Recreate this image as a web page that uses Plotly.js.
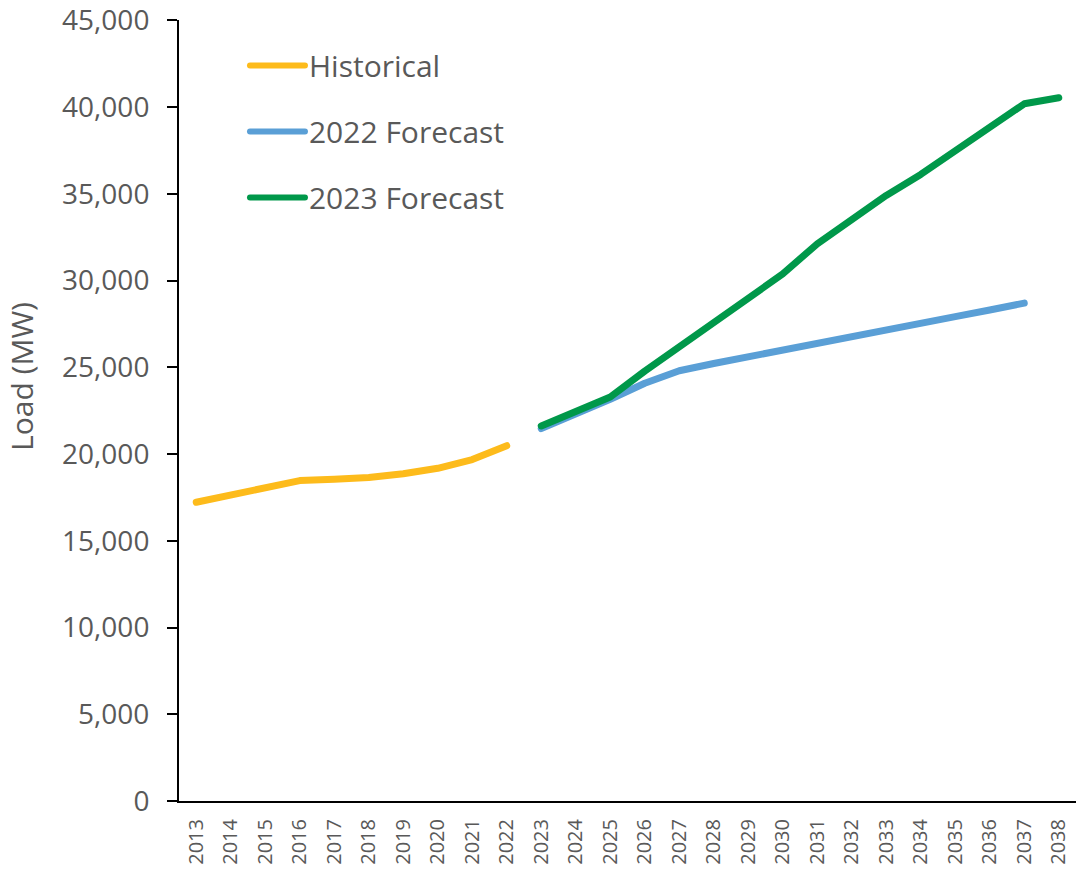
<!DOCTYPE html>
<html>
<head>
<meta charset="utf-8">
<script src="https://cdn.plot.ly/plotly-3.0.1.min.js"></script>
<style>html,body{margin:0;padding:0;background:#fff;}#chart{width:1076px;height:879px;}</style>
</head>
<body>
<div id="chart"></div>
<script>
const years = ["2013","2014","2015","2016","2017","2018","2019","2020","2021","2022","2023","2024","2025","2026","2027","2028","2029","2030","2031","2032","2033","2034","2035","2036","2037","2038"];
const historical = [17220, 17630, 18050, 18470, 18550, 18650, 18860, 19180, 19680, 20480, null, null, null, null, null, null, null, null, null, null, null, null, null, null, null, null];
const forecast2022 = [null, null, null, null, null, null, null, null, null, null, 21470, 22300, 23150, 24080, 24800, 25220, 25620, 26000, 26380, 26780, 27180, 27560, 27920, 28300, 28700, null];
const forecast2023 = [null, null, null, null, null, null, null, null, null, null, 21620, 22480, 23290, 24780, 26170, 27670, 28960, 30380, 32120, 33480, 34910, 36120, 37460, 38840, 40190, 40540];
const seriesNames = ["Historical", "2022 Forecast", "2023 Forecast"];
const seriesColors = ["#FDBB1B", "#5A9FD6", "#00984A"];
const yTicks = [0, 5000, 10000, 15000, 20000, 25000, 30000, 35000, 40000, 45000];
const yTitle = "Load (MW)";

const allSeries = [historical, forecast2022, forecast2023];
const traces = allSeries.map((vals, i) => ({
  x: years,
  y: vals,
  type: "scatter",
  mode: "lines",
  name: seriesNames[i],
  legendgroup: "g" + i,
  connectgaps: false,
  line: {color: seriesColors[i], width: 7}
}));

const layout = {
  width: 1076,
  height: 879,
  margin: {l: 179, r: 0, t: 20, b: 78},
  paper_bgcolor: "#ffffff",
  plot_bgcolor: "#ffffff",
  font: {family: "Open Sans, Noto Sans, sans-serif", color: "#595959"},
  showlegend: true,
  legend: {
    x: 0.1003, y: 0.975, xanchor: "left", yanchor: "top",
    font: {size: 30, color: "#595959"},
    bgcolor: "rgba(0,0,0,0)",
    traceorder: "grouped",
    tracegroupgap: 24,
    itemwidth: 30
  },
  xaxis: {
    type: "category",
    range: [-0.5, years.length - 0.5],
    showline: true, linecolor: "#000000", linewidth: 2,
    ticks: "", tickangle: -90,
    ticklabelstandoff: 8,
    tickfont: {size: 20, color: "#595959"},
    showgrid: false, zeroline: false
  },
  yaxis: {
    range: [0, 45020],
    tickvals: yTicks,
    tickformat: ",d",
    showline: true, linecolor: "#000000", linewidth: 2,
    ticks: "outside", ticklen: 10, tickcolor: "#000000", tickwidth: 2,
    ticklabelstandoff: 12,
    tickfont: {size: 28, color: "#595959"},
    showgrid: false, zeroline: false
  },
  annotations: [{
    text: yTitle,
    xref: "paper", yref: "paper",
    x: -0.175, y: 0.543,
    xanchor: "center", yanchor: "middle",
    textangle: -90,
    showarrow: false,
    font: {size: 30, color: "#595959"}
  }]
};

Plotly.newPlot("chart", traces, layout, {displayModeBar: false, staticPlot: true}).then(() => {
  document.querySelectorAll("#chart .scatterlayer path.js-line").forEach(p => {
    p.style.strokeLinecap = "round";
    p.style.strokeLinejoin = "round";
  });
  document.querySelectorAll("#chart .legend [clip-path]").forEach(e => e.removeAttribute("clip-path"));
  document.querySelectorAll("#chart .legendlines path").forEach(p => {
    p.setAttribute("d", "M-19,0h55");
    p.style.strokeLinecap = "round";
    p.style.strokeWidth = "6px";
  });
});
</script>
</body>
</html>
